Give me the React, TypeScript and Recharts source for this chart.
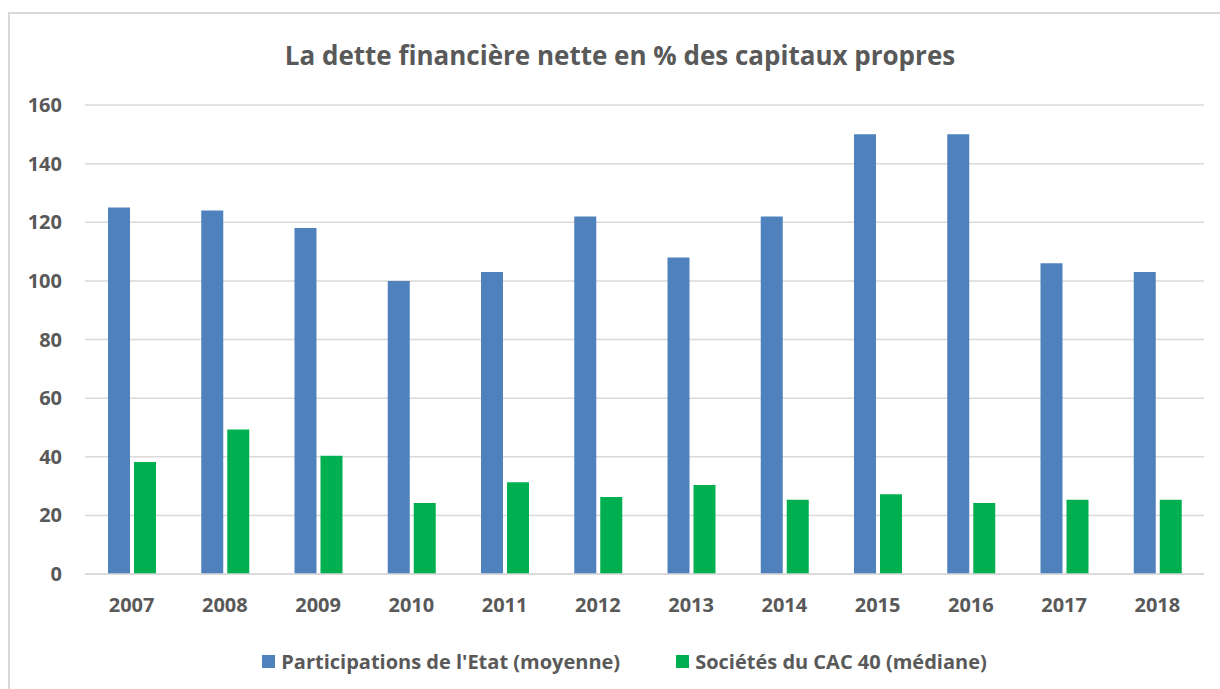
import { Bar, BarChart, CartesianGrid, Legend, XAxis, YAxis } from "recharts";

const years = ["2007", "2008", "2009", "2010", "2011", "2012", "2013", "2014", "2015", "2016", "2017", "2018"];
const participationsEtat = [125, 124, 118, 100, 103, 122, 108, 122, 150, 150, 106, 103];
const societesCac40 = [38.2, 49.3, 40.3, 24.2, 31.3, 26.3, 30.4, 25.3, 27.2, 24.2, 25.3, 25.3];
const yTicks = [0, 20, 40, 60, 80, 100, 120, 140, 160];

const data = years.map((year, i) => ({
    year,
    etat: participationsEtat[i],
    cac: societesCac40[i],
}));

const textColor = "#595959";
const font = "'Open Sans', sans-serif";

const renderLegend = () => (
    <div style={{ display: "flex", justifyContent: "center", fontFamily: font, fontWeight: 700, fontSize: 20, color: textColor, paddingLeft: 30 }}>
        <div style={{ display: "flex", alignItems: "center", marginRight: 56 }}>
            <span style={{ width: 13, height: 13, background: "#4F81BD", marginRight: 6, display: "inline-block" }} />
            Participations de l'Etat (moyenne)
        </div>
        <div style={{ display: "flex", alignItems: "center" }}>
            <span style={{ width: 13, height: 13, background: "#00B050", marginRight: 6, display: "inline-block" }} />
            Sociétés du CAC 40 (médiane)
        </div>
    </div>
);

export default function App() {
    return (
        <div style={{ position: "absolute", left: 0, top: 0, width: 1220, height: 689, overflow: "hidden", background: "#fff" }}>
            <div
                style={{
                    position: "absolute",
                    left: 8,
                    top: 12,
                    width: 1240,
                    height: 700,
                    border: "2px solid #d9d9d9",
                }}
            />
            <div
                style={{
                    position: "absolute",
                    top: 40,
                    left: 0,
                    width: 1240,
                    textAlign: "center",
                    fontFamily: font,
                    fontWeight: 700,
                    fontSize: 26,
                    lineHeight: "30px",
                    color: textColor,
                }}
            >
                La dette financière nette en % des capitaux propres
            </div>
            <div style={{ position: "absolute", left: 0, top: 0 }}>
                <BarChart
                    width={1220}
                    height={689}
                    data={data}
                    margin={{ top: 105, right: 16, left: 15, bottom: 53 }}
                    barSize={22}
                    barGap={4}
                >
                    <CartesianGrid vertical={false} stroke="#d9d9d9" strokeWidth={1.5} />
                    <XAxis
                        dataKey="year"
                        axisLine={{ stroke: "#d9d9d9", strokeWidth: 1.5 }}
                        tickLine={false}
                        tickMargin={18}
                        height={35}
                        tick={{ fill: textColor, fontFamily: font, fontWeight: 700, fontSize: 20 }}
                    />
                    <YAxis
                        domain={[0, 160]}
                        ticks={yTicks}
                        width={70}
                        axisLine={false}
                        tickLine={false}
                        tickMargin={17}
                        tick={{ fill: textColor, fontFamily: font, fontWeight: 700, fontSize: 20 }}
                    />
                    <Legend verticalAlign="bottom" content={renderLegend} wrapperStyle={{ bottom: 14 }} />
                    <Bar dataKey="etat" name="Participations de l'Etat (moyenne)" fill="#4F81BD" isAnimationActive={false} />
                    <Bar dataKey="cac" name="Sociétés du CAC 40 (médiane)" fill="#00B050" isAnimationActive={false} />
                </BarChart>
            </div>
        </div>
    );
}
